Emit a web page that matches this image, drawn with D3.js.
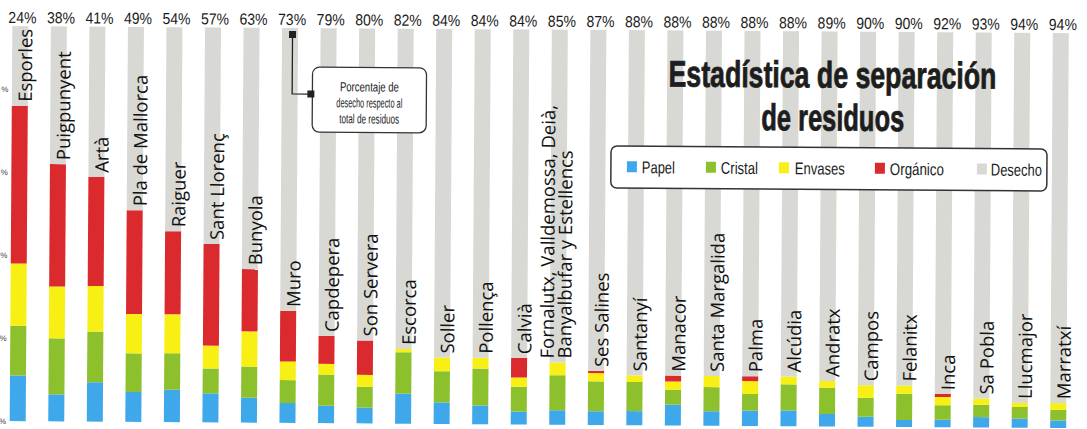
<!DOCTYPE html>
<html lang="es">
<head>
  <meta charset="utf-8">
  <title>Estadística de separación de residuos</title>
  <script src="https://d3js.org/d3.v7.min.js"></script>
  <style>
    body { margin: 0; background: #fff; }
    .narrow { font-family: "Liberation Sans", Arial, sans-serif; }
  </style>
</head>
<body>
<script type="text/javascript">
  // municipios, en el orden del gráfico
  var municipios = ["Esporles", "Puigpunyent", "Artà", "Pla de Mallorca", "Raiguer", "Sant Llorenç",
    "Bunyola", "Muro", "Capdepera", "Son Servera", "Escorca", "Soller", "Pollença", "Calvià",
    "Fornalutx, Valldemossa, Deià,\nBanyalbufar y Estellencs", "Ses Salines", "Santanyí", "Manacor",
    "Santa Margalida", "Palma", "Alcúdia", "Andratx", "Campos", "Felanitx", "Inca", "Sa Pobla",
    "Llucmajor", "Marratxí"];

  // % sobre el total de residuos
  var papel    = [11, 6.5, 9.5, 7.2, 7.8, 7, 6, 4.8, 4.2, 3.8, 7.2, 5.2, 4.5, 3.1, 3.5, 3.3, 3.4, 5, 3.5, 3.7, 3.8, 3, 2.4, 1.7, 1.8, 2.5, 2.2, 1.8];
  var cristal  = [12, 13.5, 12.2, 9.3, 8.8, 6, 7.5, 5.5, 7.5, 5, 10, 7.5, 8.9, 6, 8.4, 7.2, 7, 3.6, 5.8, 4, 6.3, 6.3, 4.6, 6.3, 3.5, 3, 2.8, 2.6];
  var envases  = [15, 12.5, 11, 9.5, 9.4, 5.5, 8.5, 4.5, 2.6, 2.9, 0.8, 3.3, 2.6, 2.2, 3.1, 2, 1.6, 2, 2.7, 3.1, 1.9, 1.7, 3, 2, 2, 1.5, 1, 1.6];
  var organico = [38, 29.5, 26.3, 25, 20, 24.5, 15, 12.2, 6.7, 8.3, 0, 0, 0, 4.7, 0, 0.5, 0, 1.4, 0, 1.2, 0, 0, 0, 0, 0.7, 0, 0, 0];
  var desecho  = [24, 38, 41, 49, 54, 57, 63, 73, 79, 80, 82, 84, 84, 84, 85, 87, 88, 88, 88, 88, 88, 89, 90, 90, 92, 93, 94, 94];

  var series = ["papel", "cristal", "envases", "organico", "desecho"];
  var seriesNames = ["Papel", "Cristal", "Envases", "Orgánico", "Desecho"];
  var colores = ["#3ea8ea", "#8cc02c", "#f8f015", "#da2a2e", "#d8d9d4"];
  var yTicks = [0, 20, 40, 60, 80];

  var w = 1087, h = 429;

  var rows = municipios.map(function(m, i) {
    return {municipio: m, papel: papel[i], cristal: cristal[i], envases: envases[i],
            organico: organico[i], desecho: desecho[i]};
  });

  // encoge un texto en horizontal hasta el ancho dado (letra estrecha)
  function ajustar(sel, ancho, cx, cy) {
    sel.each(function() {
      var t = d3.select(this);
      var k = ancho / this.getComputedTextLength();
      t.attr('x', 0).attr('y', 0)
        .attr('transform', 'translate(' + cx + ',' + cy + ') scale(' + k + ',1)');
    });
  }

  var svg = d3.select('body').append('svg')
      .attr('width', w)
      .attr('height', h);

  svg.append('rect').attr('width', w).attr('height', h).attr('fill', '#fff');

  // el recorte del periódico está ligeramente girado
  var g = svg.append('g').attr('transform', 'rotate(0.38)');

  var x = d3.scalePoint()
    .domain(municipios)
    .range([20.5, 1061]);
  var y = d3.scaleLinear()
    .domain([0, 100])
    .range([421, 6]);
  var color = d3.scaleOrdinal().domain(series).range(colores);
  var barW = 16;

  var stack = d3.stack().keys(series)(rows);

  g.selectAll('g.serie')
    .data(stack)
    .enter().append('g')
      .attr('class', 'serie')
      .attr('fill', function(d) { return color(d.key); })
    .selectAll('rect')
    .data(function(d) { return d; })
    .enter().append('rect')
      .attr('x', function(d) { return x(d.data.municipio) - barW / 2; })
      .attr('y', function(d) { return y(d[1]); })
      .attr('width', barW)
      .attr('height', function(d) { return y(d[0]) - y(d[1]); });

  // franja blanca de las cifras de arriba
  g.append('rect').attr('x', -10).attr('y', -20).attr('width', w + 20).attr('height', 46).attr('fill', '#fff');

  // eje izquierdo: sólo asoma el signo %
  var axis = g.append('g')
    .attr('class', 'narrow')
    .attr('transform', 'translate(10,0)')
    .call(d3.axisLeft(y).tickValues(yTicks).tickSize(0).tickPadding(1)
      .tickFormat(function() { return '%'; }));
  axis.select('.domain').remove();
  axis.selectAll('text').attr('font-size', 8).attr('fill', '#444');

  // porcentaje de desecho
  g.selectAll('text.pct')
    .data(rows)
    .enter().append('text')
      .attr('class', 'pct narrow')
      .attr('x', function(d) { return x(d.municipio) + 2; })
      .attr('y', 23)
      .attr('text-anchor', 'middle')
      .attr('font-size', 16)
      .attr('textLength', 28)
      .attr('lengthAdjust', 'spacingAndGlyphs')
      .attr('fill', '#1a1a1a')
      .text(function(d) { return d.desecho + '%'; });

  // nombres en vertical
  var labels = g.selectAll('text.mun')
    .data(rows)
    .enter().append('text')
      .attr('class', 'mun')
      .attr('font-family', '"Open Sans", "Noto Sans", sans-serif')
      .attr('font-size', 18.5)
      .attr('fill', '#111')
      .attr('transform', function(d) {
        return 'translate(' + x(d.municipio) + ',' + (y(100 - d.desecho) - 4) + ') rotate(-90)';
      });
  labels.each(function(d) {
    var lines = d.municipio.split('\n');
    var t = d3.select(this);
    lines.forEach(function(l, i) {
      t.append('tspan')
        .attr('x', 0)
        .attr('y', 11.5 + 2 - (lines.length - 1 - i) * 17.5 + (lines.length > 1 ? 0 : -1.5))
        .text(l);
    });
  });

  // título
  var title = g.append('g').attr('class', 'narrow').attr('fill', '#1d1d1d').attr('font-weight', 'bold');
  title.append('text').attr('text-anchor', 'middle')
    .attr('font-size', 37)
    .attr('stroke', '#1d1d1d').attr('stroke-width', 0.8)
    .text('Estadística de separación')
    .call(ajustar, 328, 833, 82);
  title.append('text').attr('text-anchor', 'middle')
    .attr('font-size', 37)
    .attr('stroke', '#1d1d1d').attr('stroke-width', 0.8)
    .text('de residuos')
    .call(ajustar, 143, 833.5, 125);

  // leyenda
  var legendX = [628, 707, 780, 876, 978];
  var legendTextX = [643, 722, 796, 891, 992];
  var legendAncho = [33, 37, 50, 54, 51];
  var legend = g.append('g').attr('class', 'narrow');
  legend.append('rect')
    .attr('x', 612).attr('y', 142).attr('width', 436).attr('height', 42).attr('rx', 6)
    .attr('fill', '#fff').attr('stroke', '#333').attr('stroke-width', 1.5);
  var item = legend.selectAll('g.item')
    .data(series)
    .enter().append('g').attr('class', 'item');
  item.append('rect')
    .attr('x', function(d, i) { return legendX[i]; })
    .attr('y', 157).attr('width', 10).attr('height', 11)
    .attr('fill', function(d) { return color(d); });
  item.append('text')
    .attr('x', function(d, i) { return legendTextX[i]; })
    .attr('y', 169)
    .attr('font-size', 17)
    .attr('textLength', function(d, i) { return legendAncho[i]; })
    .attr('lengthAdjust', 'spacingAndGlyphs')
    .attr('fill', '#1a1a1a')
    .text(function(d, i) { return seriesNames[i]; });

  // nota explicativa
  var mx = x('Muro') + 2.5;
  var nota = g.append('g').attr('class', 'narrow');
  nota.append('path')
    .attr('d', 'M' + mx + ',32V92H311')
    .attr('fill', 'none').attr('stroke', '#222').attr('stroke-width', 1.3);
  nota.append('rect')
    .attr('x', 313).attr('y', 65).attr('width', 114).attr('height', 65).attr('rx', 7)
    .attr('fill', '#fff').attr('stroke', '#333').attr('stroke-width', 1.3);
  nota.append('rect').attr('x', mx - 3.5).attr('y', 29).attr('width', 7).attr('height', 7).attr('fill', '#222');
  nota.append('rect').attr('x', 308).attr('y', 88.5).attr('width', 7).attr('height', 7).attr('fill', '#222');
  var notaLineas = ['Porcentaje de', 'desecho respecto al', 'total de residuos'];
  var notaAncho = [59, 66, 60];
  nota.selectAll('text')
    .data(notaLineas)
    .enter().append('text')
      .attr('x', 370)
      .attr('y', function(d, i) { return 89 + i * 16; })
      .attr('text-anchor', 'middle')
      .attr('font-size', 13)
      .attr('textLength', function(d, i) { return notaAncho[i]; })
      .attr('lengthAdjust', 'spacingAndGlyphs')
      .attr('fill', '#222')
      .text(function(d) { return d; });
</script>
</body>
</html>
